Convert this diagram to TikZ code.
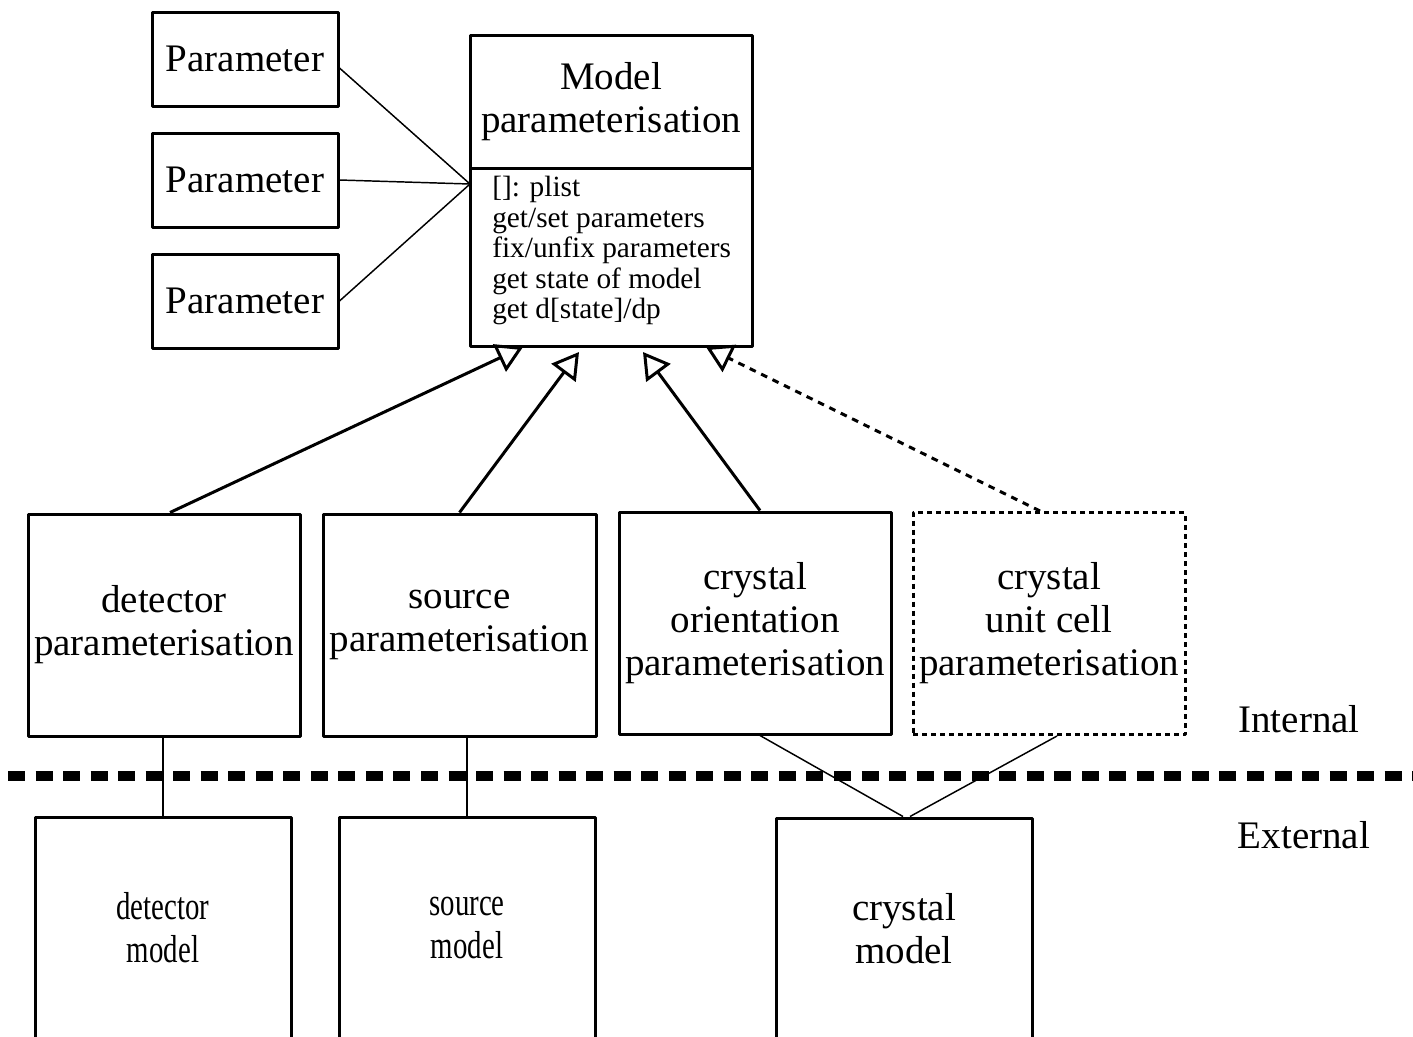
\documentclass[tikz,border=0pt]{standalone}
\usepackage{fontspec}
\setmainfont{Liberation Serif}
\newfontfamily\condserif[FakeStretch=0.74]{Liberation Serif}
\usetikzlibrary{arrows.meta,calc}
\newcommand\bigtxt{\fontsize{29.25}{32.25}\selectfont}
\newcommand\condtxt{\condserif\fontsize{29.25}{32.25}\selectfont}
\newcommand\smalltxt{\fontsize{22}{22.9}\selectfont}
\begin{document}
\begin{tikzpicture}[x=0.75pt,y=-0.75pt,
  box/.style={draw, line width=2.25pt, rectangle, inner sep=0pt, align=center, font=\bigtxt, fill=white, line join=round},
  parbox/.style={box, minimum width=139.5pt, minimum height=70.5pt},
  midbox/.style={box, minimum width=204pt, minimum height=166.5pt},
  lowbox/.style={box, minimum width=192pt, minimum height=166.5pt},
  dotbox/.style={midbox, dash pattern=on 3.75pt off 3pt},
  thinline/.style={line width=1.1pt},
  inherit/.style={line width=2.25pt, -{Triangle[open, length=19.5pt, width=22.5pt]}},
  label/.style={font=\bigtxt, inner sep=0pt, anchor=base}
]
\useasboundingbox (0,0) rectangle (1413,1036);

% parameter boxes
\node[parbox] (p1) at (245,59) {Parameter};
\node[parbox] (p2) at (245,180) {Parameter};
\node[parbox] (p3) at (245,301) {Parameter};

% model parameterisation class box
\node[box, minimum width=211.5pt, minimum height=99.75pt] (mtop) at (611,101.5) {Model\\parameterisation};
\node[box, minimum width=211.5pt, minimum height=133.5pt] (mbot) at (611,257) {};
\node[font=\smalltxt, align=left, inner sep=0pt, anchor=north west] (ops) at (492,176)
  {[]: plist\\get/set parameters\\fix/unfix parameters\\get state of model\\get d[state]/dp};

\coordinate (hub) at (470,184);
\draw[thinline] ([yshift=-6.75pt]p1.east) -- (hub);
\draw[thinline] (p2.east) -- (hub);
\draw[thinline] (p3.east) -- (hub);

% internal parameterisations
\node[midbox] (det) at (164,625) {detector\\parameterisation};
\node[midbox, minimum width=204.75pt] (src) at (459.5,625) {source\\parameterisation};
\node[midbox] (ori) at (755,623) {crystal\\orientation\\parameterisation};
\node[dotbox] (uc) at (1049,623.5) {crystal\\unit cell\\parameterisation};

% inheritance arrows
\coordinate (t1) at (523,347);
\coordinate (t2) at (579,352);
\coordinate (t3) at (643,352);
\coordinate (t4) at (706,347);
\draw[inherit] ([xshift=4.5pt]det.north) -- (t1);
\draw[inherit] (src.north) -- (t2);
\draw[inherit] ([xshift=3.75pt]ori.north) -- (t3);
\draw[inherit, dash pattern=on 5pt off 4.5pt] ([xshift=-6.75pt]uc.north) -- (t4);

% separator
\draw[line width=7.5pt, dash pattern=on 12.75pt off 7.9pt] (8,776) -- (1413,776);
\node[label] (int) at (1299,732) {Internal};
\node[label] (ext) at (1304,848) {External};

% external models
\node[lowbox, font=\condtxt] (detm) at (163,928) {detector\\model};
\node[lowbox, font=\condtxt] (srcm) at (467,928) {source\\model};
\node[lowbox] (crym) at (904,929) {crystal\\model};

\draw[thinline] (detm.north |- det.south) -- (detm.north);
\draw[thinline] (srcm.north |- src.south) -- (srcm.north);
\draw[thinline] ([xshift=3.75pt]ori.south) -- ([xshift=-0.75pt]crym.north);
\draw[thinline] ([xshift=6pt]uc.south) -- ([xshift=4.5pt]crym.north);
\end{tikzpicture}
\end{document}
